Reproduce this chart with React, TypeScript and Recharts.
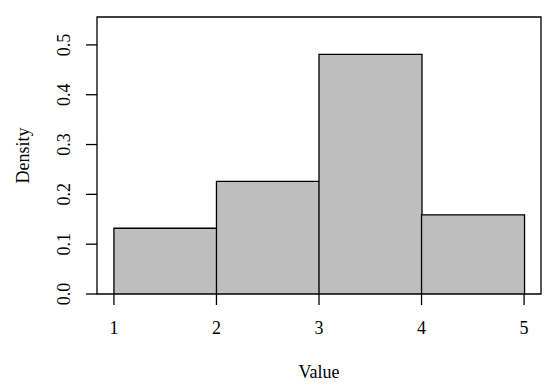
import { ComposedChart, Bar, XAxis, YAxis, ReferenceArea, Label } from 'recharts';

// histogram bins and densities
const binStart = [1, 2, 3, 4];
const binEnd = [2, 3, 4, 5];
const densities = [0.132, 0.226, 0.481, 0.159];
const xTicks = [1, 2, 3, 4, 5];
const yTicks = [0, 0.1, 0.2, 0.3, 0.4, 0.5];

const xDomain = [0.835, 5.165];
const yDomain = [0, 0.556];

const data = binStart.map((s, i) => ({ mid: (s + binEnd[i]) / 2, density: densities[i] }));

const font = '"Liberation Serif", "DejaVu Serif", serif';

const XTick = ({ x, y, payload }: any) => (
  <text x={x} y={y + 21} textAnchor="middle" dominantBaseline="central" fontFamily={font} fontSize={18} fill="#000">
    {payload.value}
  </text>
);

const YTick = ({ x, y, payload }: any) => (
  <text
    x={x - 20}
    y={y}
    transform={`rotate(-90 ${x - 20} ${y})`}
    textAnchor="middle"
    dominantBaseline="central"
    fontFamily={font}
    fontSize={18}
    fill="#000"
  >
    {payload.value.toFixed(1)}
  </text>
);

export default function App() {
  return (
    <div style={{ position: 'absolute', left: 0, top: 0, background: '#fff' }}>
      <ComposedChart width={544} height={385} data={data} margin={{ top: 17, right: 3, left: 0, bottom: 0 }} barCategoryGap={0} barGap={0}>
        <XAxis
          dataKey="mid"
          type="number"
          domain={xDomain}
          ticks={xTicks}
          allowDataOverflow
          height={91}
          axisLine={false}
          tickSize={11}
          tickLine={{ stroke: '#000', strokeWidth: 1.3 }}
          tick={<XTick />}
          interval={0}
        >
          <Label
            content={({ viewBox }: any) => (
              <text x={viewBox.x + viewBox.width / 2} y={372} textAnchor="middle" dominantBaseline="central" fontFamily={font} fontSize={18} fill="#000">
                Value
              </text>
            )}
          />
        </XAxis>
        <YAxis
          type="number"
          domain={yDomain}
          ticks={yTicks}
          allowDataOverflow
          width={97}
          axisLine={false}
          tickSize={11}
          tickLine={{ stroke: '#000', strokeWidth: 1.3 }}
          tick={<YTick />}
          interval={0}
        >
          <Label
            content={({ viewBox }: any) => {
              const cy = viewBox.y + viewBox.height / 2;
              return (
                <text x={23} y={cy} transform={`rotate(-90 23 ${cy})`} textAnchor="middle" dominantBaseline="central" fontFamily={font} fontSize={18} fill="#000">
                  Density
                </text>
              );
            }}
          />
        </YAxis>
        <Bar dataKey="density" fill="#bebebe" stroke="#000" strokeWidth={1.3} isAnimationActive={false} />
        <ReferenceArea x1={xDomain[0]} x2={xDomain[1]} y1={yDomain[0]} y2={yDomain[1]} fill="none" fillOpacity={0} stroke="#000" strokeWidth={1.3} ifOverflow="visible" />
      </ComposedChart>
    </div>
  );
}
